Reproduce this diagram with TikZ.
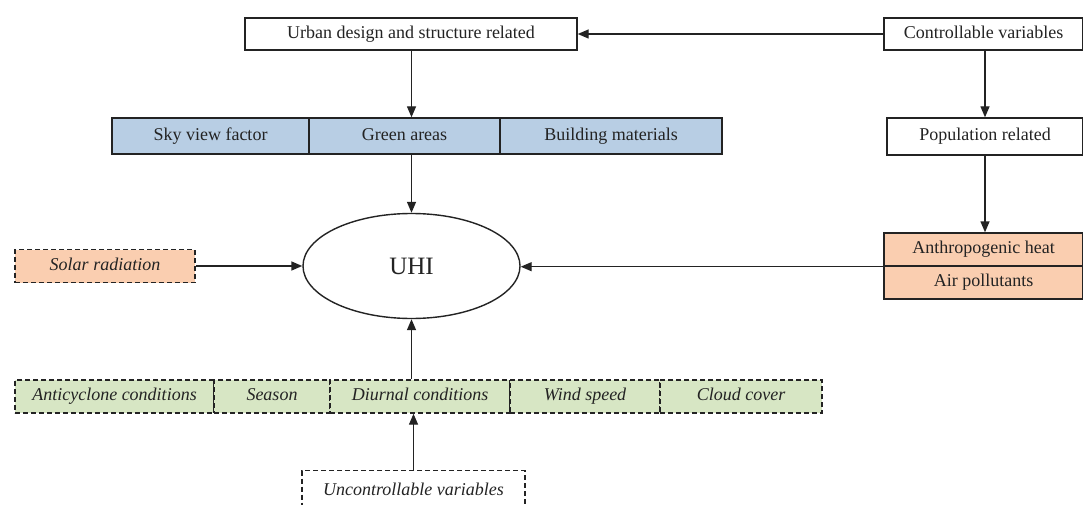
\documentclass[tikz,border=0pt]{standalone}
\usepackage{fontspec}
\setmainfont{Liberation Serif}
\usetikzlibrary{arrows.meta,shapes.geometric}
\definecolor{bluefill}{RGB}{184,206,228}
\definecolor{orangefill}{RGB}{250,206,176}
\definecolor{greenfill}{RGB}{215,230,196}
\definecolor{linecol}{RGB}{35,35,35}
\tikzset{
  cell/.style={draw=linecol, line width=1.4pt, inner sep=0pt, text height=12.5pt, text depth=4pt, font=\fontsize{18}{20}\selectfont, text=linecol},
  plain/.style={cell, fill=white},
  bluecell/.style={cell, fill=bluefill},
  orangecell/.style={cell, fill=orangefill},
  dashcell/.style={cell, dash pattern=on 5pt off 3pt, font=\fontsize{18}{20}\selectfont\itshape},
  greencell/.style={dashcell, fill=greenfill},
  arr/.style={draw=linecol, line width=1.4pt, -{Triangle[length=11pt,width=9pt]}}
}
\begin{document}
\begin{tikzpicture}[x=1pt,y=-1pt]
\useasboundingbox[fill=white] (0,0) rectangle (1083,505);
% top row
\node[plain, minimum width=332pt, minimum height=32pt] (urban) at (411,34) {Urban design and structure related};
\node[plain, minimum width=199pt, minimum height=32pt] (ctrl) at (983.5,34) {Controllable variables};
% blue row
\node[bluecell, minimum width=197pt, minimum height=36pt] (sky) at (210.5,136) {Sky view factor};
\node[bluecell, minimum width=191pt, minimum height=36pt] (green) at (404.5,136) {Green areas};
\node[bluecell, minimum width=222pt, minimum height=36pt] (build) at (611,136) {Building materials};
\node[plain, minimum width=196pt, minimum height=37pt] (pop) at (985,136.5) {Population related};
% UHI
\node[ellipse, draw=linecol, line width=1.4pt, minimum width=217pt, minimum height=105pt, inner sep=0pt, font=\fontsize{25}{27}\selectfont, text=linecol] (uhi) at (411.5,266) {UHI};
\node[dashcell, fill=orangefill, minimum width=180pt, minimum height=33pt] (solar) at (105,266) {Solar radiation};
\node[orangecell, minimum width=199pt, minimum height=33pt] (anth) at (983.5,249.5) {Anthropogenic heat};
\node[orangecell, minimum width=199pt, minimum height=33pt] (air) at (983.5,282.5) {Air pollutants};
% green row
\node[greencell, minimum width=199pt, minimum height=33pt] (anti) at (114.5,396.5) {Anticyclone conditions};
\node[greencell, minimum width=116pt, minimum height=33pt] (season) at (272,396.5) {Season};
\node[greencell, minimum width=180pt, minimum height=33pt] (diurnal) at (420,396.5) {Diurnal conditions};
\node[greencell, minimum width=150pt, minimum height=33pt] (wind) at (585,396.5) {Wind speed};
\node[greencell, minimum width=162pt, minimum height=33pt] (cloud) at (741,396.5) {Cloud cover};
\node[dashcell, fill=white, minimum width=223pt, minimum height=42pt, anchor=north] (unctrl) at (413.5,470) {};
\node[font=\fontsize{18}{20}\selectfont\itshape, text=linecol] (unctrltxt) at (413.5,489) {Uncontrollable variables};
% connectors
\draw[arr] (ctrl.west) -- (urban.east);
\draw[arr] (urban.south -| uhi.north) -- (green.north -| uhi.north);
\draw[arr] (ctrl.south -| pop.north) -- (pop.north);
\draw[arr] (pop.south) -- (anth.north -| pop.south);
\draw[arr] (green.south -| uhi.north) -- (uhi.north);
\draw[arr] (solar.east) -- (uhi.west);
\draw[arr] (anth.south west) -- (anth.south west -| uhi.east);
\draw[arr] (diurnal.north -| uhi.south) -- (uhi.south);
\draw[arr] (unctrl.north) -- (diurnal.south -| unctrl.north);
\end{tikzpicture}
\end{document}
